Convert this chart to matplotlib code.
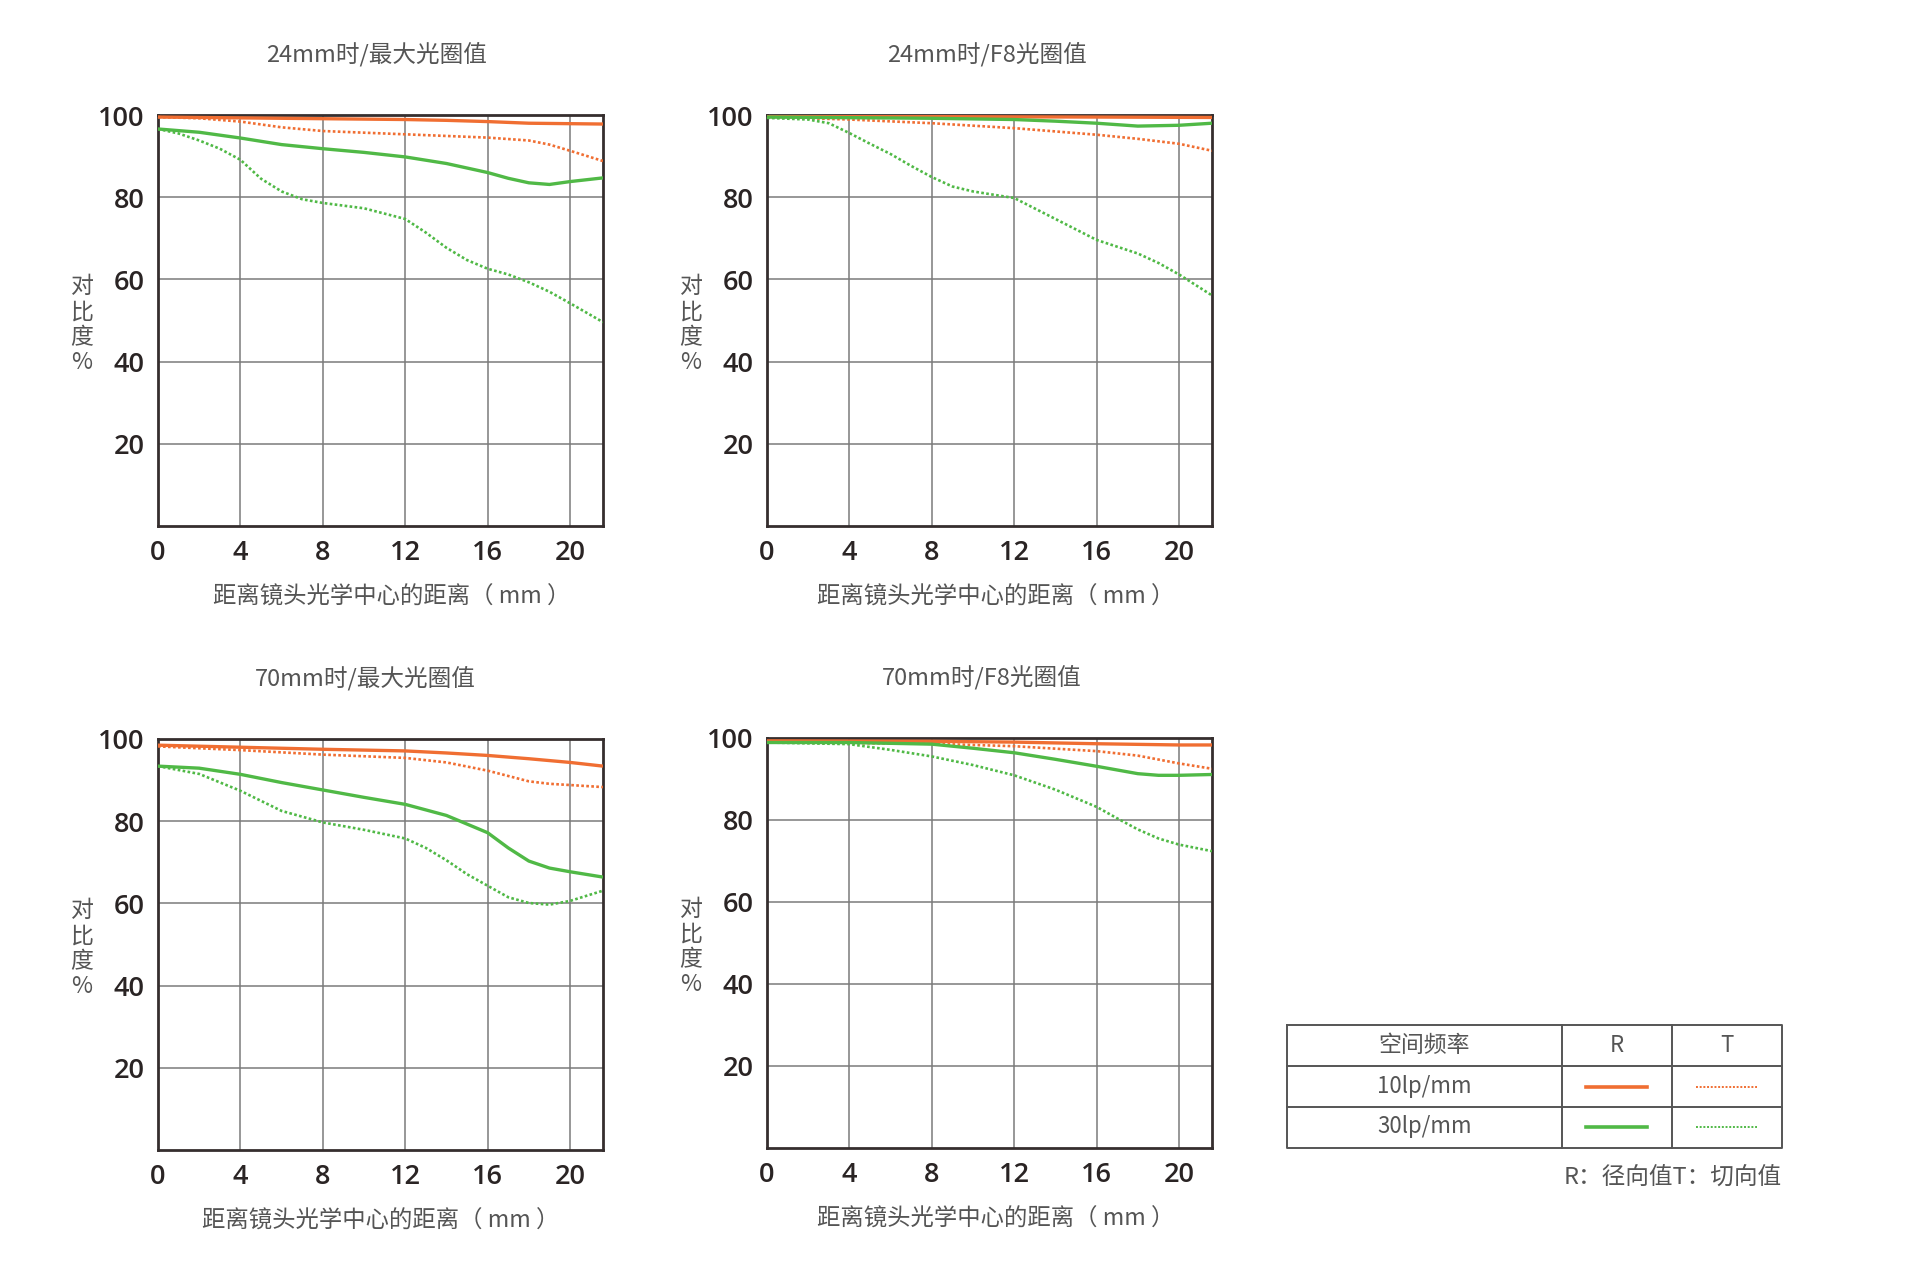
import numpy as np
import matplotlib
matplotlib.use("Agg")
import matplotlib.pyplot as plt

plt.rcParams['font.family'] = ['Noto Sans CJK SC', 'DejaVu Sans']

# MTF data (x = distance from optical centre, mm)
titles = ["24mm时/最大光圈值", "24mm时/F8光圈值", "70mm时/最大光圈值", "70mm时/F8光圈值"]

# 24mm wide open
p1_r10_x = [0, 4, 8, 12, 14, 16, 18, 21.6]
p1_r10_y = [99.5, 99.3, 99.1, 98.9, 98.7, 98.4, 98.0, 97.8]
p1_t10_x = [0, 2, 4, 6, 8, 12, 16, 18, 19, 20, 21.6]
p1_t10_y = [99.5, 99.2, 98.4, 97.0, 96.1, 95.3, 94.5, 93.8, 92.8, 91.3, 88.8]
p1_r30_x = [0, 2, 4, 6, 8, 10, 12, 14, 16, 17, 18, 19, 20, 21.6]
p1_r30_y = [96.6, 95.8, 94.4, 92.8, 91.8, 90.9, 89.8, 88.2, 86.0, 84.6, 83.5, 83.1, 83.8, 84.7]
p1_t30_x = [0, 1, 2, 3, 4, 5, 6, 7, 8, 10, 12, 13, 14, 15, 16, 17, 18, 19, 20, 21.6]
p1_t30_y = [96.6, 95.5, 93.8, 91.8, 89.1, 84.5, 81.4, 79.5, 78.6, 77.3, 74.7, 71.4, 67.7, 64.7,
            62.6, 61.2, 59.3, 57.0, 54.2, 49.6]

# 24mm at F8
p2_r10_x = [0, 8, 16, 21.6]
p2_r10_y = [99.6, 99.6, 99.5, 99.4]
p2_t10_x = [0, 4, 8, 12, 16, 18, 20, 21.6]
p2_t10_y = [99.5, 98.9, 98.0, 96.8, 95.2, 94.2, 93.0, 91.3]
p2_r30_x = [0, 8, 12, 14, 16, 18, 20, 21.6]
p2_r30_y = [99.5, 99.2, 98.9, 98.5, 98.0, 97.3, 97.5, 98.0]
p2_t30_x = [0, 2, 3, 4, 5, 6, 7, 8, 9, 10, 12, 14, 16, 18, 19, 20, 21.6]
p2_t30_y = [99.3, 98.9, 98.0, 95.6, 93.0, 90.5, 87.6, 84.9, 82.6, 81.4, 79.8, 74.7, 69.6, 66.3,
            64.0, 61.2, 56.1]

# 70mm wide open
p3_r10_x = [0, 4, 8, 12, 14, 16, 18, 20, 21.6]
p3_r10_y = [98.5, 98.0, 97.5, 97.1, 96.6, 96.0, 95.2, 94.3, 93.4]
p3_t10_x = [0, 4, 8, 12, 14, 16, 17, 18, 19, 20, 21.6]
p3_t10_y = [98.2, 97.3, 96.2, 95.4, 94.3, 92.3, 91.0, 89.7, 89.1, 88.8, 88.3]
p3_r30_x = [0, 2, 4, 6, 8, 10, 12, 14, 15, 16, 17, 18, 19, 20, 21.6]
p3_r30_y = [93.4, 92.9, 91.4, 89.4, 87.6, 85.8, 84.1, 81.4, 79.3, 77.2, 73.5, 70.3, 68.6, 67.7, 66.4]
p3_t30_x = [0, 2, 4, 6, 8, 10, 12, 13, 14, 15, 16, 17, 18, 19, 20, 21.6]
p3_t30_y = [93.4, 91.5, 87.4, 82.5, 79.7, 77.9, 75.8, 73.5, 70.5, 67.1, 64.3, 61.5, 60.1, 59.7,
            60.6, 63.1]

# 70mm at F8
p4_r10_x = [0, 8, 12, 16, 20, 21.6]
p4_r10_y = [99.3, 99.2, 99.0, 98.6, 98.3, 98.3]
p4_t10_x = [0, 8, 12, 16, 18, 20, 21.6]
p4_t10_y = [98.9, 98.6, 98.0, 96.8, 95.7, 93.8, 92.5]
p4_r30_x = [0, 4, 8, 10, 12, 14, 16, 18, 19, 20, 21.6]
p4_r30_y = [98.9, 98.9, 98.5, 97.5, 96.4, 94.8, 93.1, 91.3, 90.9, 90.9, 91.1]
p4_t30_x = [0, 4, 6, 8, 10, 12, 14, 16, 17, 18, 19, 20, 21.6]
p4_t30_y = [98.9, 98.5, 97.1, 95.5, 93.4, 90.9, 87.4, 83.2, 80.4, 77.7, 75.5, 74.0, 72.4]

panels = [
    [(p1_r10_x, p1_r10_y), (p1_t10_x, p1_t10_y), (p1_r30_x, p1_r30_y), (p1_t30_x, p1_t30_y)],
    [(p2_r10_x, p2_r10_y), (p2_t10_x, p2_t10_y), (p2_r30_x, p2_r30_y), (p2_t30_x, p2_t30_y)],
    [(p3_r10_x, p3_r10_y), (p3_t10_x, p3_t10_y), (p3_r30_x, p3_r30_y), (p3_t30_x, p3_t30_y)],
    [(p4_r10_x, p4_r10_y), (p4_t10_x, p4_t10_y), (p4_r30_x, p4_r30_y), (p4_t30_x, p4_t30_y)],
]

x_ticks = [0, 4, 8, 12, 16, 20]
y_ticks = [20, 40, 60, 80, 100]
freq_labels = ["10lp/mm", "30lp/mm"]

ORANGE = "#f06e32"
GREEN = "#50b946"
DOT = (0, (1, 0.9))
styles = [
    dict(color=ORANGE, lw=2.4, ls="-"),
    dict(color=ORANGE, lw=1.9, ls=DOT),
    dict(color=GREEN, lw=2.4, ls="-"),
    dict(color=GREEN, lw=1.9, ls=DOT),
]

W, H = 1920, 1264
fig = plt.figure(figsize=(W / 100, H / 100), dpi=100)

# axes boxes in pixels: left, top, right, bottom
boxes = [(158, 115, 603, 526), (767, 115, 1212, 526),
         (158, 739, 603, 1150), (767, 738, 1212, 1148)]
title_x = [0.49, 0.495, 0.466, 0.482]
xlabel_x = [0.525, 0.514, 0.5, 0.514]

tick_font = dict(family=['Open Sans', 'DejaVu Sans'], weight=600, size=19.5, color="#2a2424")
text_color = "#555555"

for i, (l, t, r, b) in enumerate(boxes):
    ax = fig.add_axes([l / W, 1 - b / H, (r - l) / W, (b - t) / H])
    for (xs, ys), st in zip(panels[i], styles):
        ax.plot(xs, ys, solid_capstyle="butt", zorder=3, **st)
    ax.set_xlim(0, 21.6)
    ax.set_ylim(0, 100)
    ax.set_xticks(x_ticks)
    ax.set_yticks(y_ticks)
    ax.set_xticklabels([str(v) for v in x_ticks], fontdict=tick_font)
    ax.set_yticklabels([str(v) for v in y_ticks], fontdict=tick_font)
    ax.tick_params(axis="x", length=0, pad=9)
    ax.tick_params(axis="y", length=0, pad=9.5)
    ax.grid(True, color="#7a7a7a", lw=1.1, zorder=1)
    for sp in ax.spines.values():
        sp.set_color("#352e2e")
        sp.set_linewidth(2.0)
    hpx = b - t
    ax.text(title_x[i], 1 + 60 / hpx, titles[i], transform=ax.transAxes, ha="center",
            va="center", fontsize=17, color=text_color)
    ax.text(xlabel_x[i], -71 / hpx, "距离镜头光学中心的距离（ mm ）", transform=ax.transAxes,
            ha="center", va="center", fontsize=16.8, color=text_color)
    ax.text(-76 / (r - l), 0.49, "对\n比\n度\n%", transform=ax.transAxes, ha="center",
            va="center", fontsize=16.5, color=text_color, linespacing=1.12)

# legend table drawn on an overlay in pixel coordinates
lg = fig.add_axes([0, 0, 1, 1])
lg.set_xlim(0, W)
lg.set_ylim(H, 0)
lg.axis("off")
tl, tr, tt, tb = 1287, 1782, 1025, 1148
cols = [1562, 1672]
rows = [1066, 1107]
bc = "#555555"
lg.plot([tl, tr, tr, tl, tl], [tt, tt, tb, tb, tt], color=bc, lw=1.4)
for c in cols:
    lg.plot([c, c], [tt, tb], color=bc, lw=1.4)
for rw in rows:
    lg.plot([tl, tr], [rw, rw], color=bc, lw=1.4)
lg.text((tl + cols[0]) / 2, 1046, "空间频率", ha="center", va="center", fontsize=16.5, color=text_color)
lg.text((cols[0] + cols[1]) / 2, 1046, "R", ha="center", va="center", fontsize=16, color=text_color)
lg.text((cols[1] + tr) / 2, 1046, "T", ha="center", va="center", fontsize=16, color=text_color)
row_y = [1087, 1127]
for k, lab in enumerate(freq_labels):
    lg.text((tl + cols[0]) / 2, row_y[k], lab, ha="center", va="center", fontsize=16,
            color=text_color)
    sr = styles[2 * k]
    stt = styles[2 * k + 1]
    lg.plot([1586, 1647], [row_y[k], row_y[k]], color=sr["color"], lw=2.6, ls="-")
    lg.plot([1696, 1757], [row_y[k], row_y[k]], color=stt["color"], lw=1.4, ls=DOT)
lg.text(tr, 1178, "R：径向值T：切向值", ha="right", va="center", fontsize=17, color=text_color)

fig.savefig("out.png", dpi=100, facecolor="white")
